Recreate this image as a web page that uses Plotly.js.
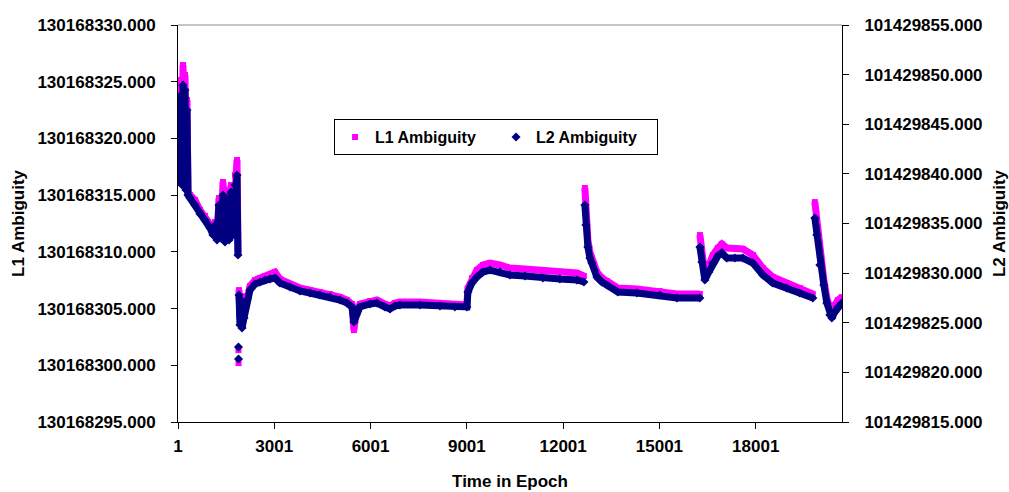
<!DOCTYPE html>
<html>
<head>
<meta charset="utf-8">
<script src="https://cdn.plot.ly/plotly-3.0.1.min.js"></script>
<style>
  html, body { margin: 0; padding: 0; background: #ffffff; }
  #chart { width: 1009px; height: 492px; }
</style>
</head>
<body>
<div id="chart"></div>
<script>
// Epoch numbers of the sampled solutions (null rows in the value arrays mark breaks)
const epochs = [
  1, 32, 48, 63, 94, 126, 157, 188, 219, 250, 281, 313, 375, 531, 686, 842, 998, 1091,
  1154, 1216, 1278, 1340, 1403, 1465, 1527, 1590, 1652, 1714, 1777, 1839, 1870,
  1878, 1885, 1886, 1887, 1889,
  1901, 1932, 1963, 1995, 2057, 2150, 2244, 2400, 2555, 2711, 2867, 3023, 3178, 3490,
  3801, 4113, 4424, 4736, 5047, 5265, 5421, 5483, 5546, 5670, 5982, 6200, 6449, 6605,
  6761, 6916, 7539, 8162, 8629, 9003, 9035, 9159, 9315, 9502, 9720, 10031, 10343, 10810,
  11371, 11900, 12430, 12648,
  12660,
  12679, 12710, 12772, 12835, 12897, 13053, 13209, 13364, 13707, 14299, 15015, 15545, 16261,
  16262,
  16263, 16324, 16417, 16542, 16667, 16822, 16947, 17103, 17353, 17600, 17912, 18224,
  18535, 18971, 19376, 19781,
  19800,
  19844, 19906, 20000, 20124, 20218, 20311, 20373, 20467, 20560, 20685
];

// L1 float ambiguity (cycles), left axis
const l1Ambiguity = [
  130168322.50, 130168316.51, 130168324.27, 130168317.39, 130168325.15, 130168316.07,
  130168326.47, 130168318.98, 130168325.59, 130168315.63, 130168323.39, 130168315.27,
  130168315.01, 130168314.57, 130168313.69, 130168313.16, 130168312.45, 130168311.75,
  130168312.63, 130168311.22, 130168314.74, 130168311.48, 130168316.16, 130168311.04,
  130168315.45, 130168311.31, 130168315.89, 130168311.92, 130168316.77, 130168318.10,
  130168309.98,
  null, 130168301.34, null, 130168300.19, null,
  130168306.63, 130168304.16, 130168306.10, 130168303.54, 130168304.52, 130168306.10,
  130168306.98, 130168307.51, 130168307.69, 130168307.87, 130168307.95, 130168308.22,
  130168307.60, 130168307.16, 130168306.81, 130168306.63, 130168306.46, 130168306.28,
  130168306.01, 130168305.75, 130168305.40, 130168303.10, 130168304.69, 130168305.40,
  130168305.66, 130168305.75, 130168305.40, 130168305.22, 130168305.48, 130168305.57,
  130168305.57, 130168305.48, 130168305.40, 130168305.31, 130168306.81, 130168307.69,
  130168308.40, 130168308.84, 130168309.01, 130168308.84, 130168308.57, 130168308.48,
  130168308.31, 130168308.22, 130168308.13, 130168307.87,
  null,
  130168315.63, 130168313.25, 130168311.04, 130168309.98, 130168309.45, 130168308.22,
  130168307.69, 130168307.42, 130168306.81, 130168306.72, 130168306.54, 130168306.28,
  130168306.28,
  null,
  130168311.48, 130168309.72, 130168307.95, 130168308.75, 130168309.72, 130168310.34,
  130168310.69, 130168310.34, 130168310.34, 130168310.25, 130168309.72, 130168308.57,
  130168307.78, 130168307.25, 130168306.81, 130168306.28,
  null,
  130168314.39, 130168312.63, 130168309.72, 130168307.51, 130168305.93, 130168304.87,
  130168304.52, 130168305.31, 130168305.75, 130168306.01
];

// L2 float ambiguity (cycles), right axis
const l2Ambiguity = [
  101429845.43, 101429839.38, 101429847.44, 101429840.39, 101429847.95, 101429838.88,
  101429848.95, 101429841.40, 101429848.45, 101429838.38, 101429846.44, 101429837.87,
  101429837.57, 101429836.86, 101429835.96, 101429835.35, 101429834.55, 101429833.84,
  101429834.85, 101429833.34, 101429836.86, 101429833.54, 101429837.87, 101429833.14,
  101429837.37, 101429833.34, 101429838.17, 101429833.84, 101429838.88, 101429839.89,
  101429831.83,
  null, 101429822.56, null, 101429821.35, null,
  101429827.80, 101429824.77, 101429827.29, 101429824.47, 101429825.48, 101429827.29,
  101429828.30, 101429828.90, 101429829.11, 101429829.31, 101429829.41, 101429829.51,
  101429829.00, 101429828.60, 101429828.20, 101429828.00, 101429827.80, 101429827.59,
  101429827.29, 101429826.99, 101429826.59, 101429825.08, 101429825.78, 101429826.59,
  101429826.89, 101429826.99, 101429826.59, 101429826.39, 101429826.69, 101429826.79,
  101429826.79, 101429826.69, 101429826.59, 101429826.59, 101429828.10, 101429829.00,
  101429829.61, 101429830.11, 101429830.31, 101429830.11, 101429829.81, 101429829.71,
  101429829.51, 101429829.41, 101429829.31, 101429829.11,
  null,
  101429836.86, 101429834.85, 101429832.63, 101429831.52, 101429831.02, 101429829.61,
  101429829.11, 101429828.80, 101429828.10, 101429828.00, 101429827.80, 101429827.49,
  101429827.49,
  null,
  101429832.63, 101429831.12, 101429829.31, 101429830.11, 101429831.02, 101429831.73,
  101429832.03, 101429831.52, 101429831.52, 101429831.52, 101429831.02, 101429829.81,
  101429829.00, 101429828.50, 101429828.00, 101429827.49,
  null,
  101429835.55, 101429833.84, 101429830.82, 101429828.80, 101429826.99, 101429825.78,
  101429825.48, 101429826.08, 101429826.59, 101429826.99
];

const epochTicks = [1, 3001, 6001, 9001, 12001, 15001, 18001];
const seriesNames = ['L1 Ambiguity', 'L2 Ambiguity'];

const PINK = '#ff00ff';
const NAVY = '#000080';
const FONT = 'Liberation Sans, Arial, sans-serif';
const textFont = { family: FONT, size: 17, weight: 'bold', color: '#000000' };
const legendFont = { family: FONT, size: 16, weight: 'bold', color: '#000000' };

const traces = [
  // L1: thick band plus square markers
  { x: epochs, y: l1Ambiguity, type: 'scatter', mode: 'lines', yaxis: 'y',
    line: { color: PINK, width: 7 }, connectgaps: false, showlegend: false, hoverinfo: 'skip' },
  { x: epochs, y: l1Ambiguity, type: 'scatter', mode: 'markers', yaxis: 'y', name: seriesNames[0],
    marker: { color: PINK, symbol: 'square', size: 6 } },
  // L2: thick band plus diamond markers
  { x: epochs, y: l2Ambiguity, type: 'scatter', mode: 'lines', yaxis: 'y2',
    line: { color: NAVY, width: 7 }, connectgaps: false, showlegend: false, hoverinfo: 'skip' },
  { x: epochs, y: l2Ambiguity, type: 'scatter', mode: 'markers', yaxis: 'y2', name: seriesNames[1],
    marker: { color: NAVY, symbol: 'diamond', size: 7 } }
];

const layout = {
  width: 1009,
  height: 492,
  margin: { l: 178, r: 167, t: 25, b: 70, pad: 0 },
  paper_bgcolor: '#ffffff',
  plot_bgcolor: '#ffffff',
  font: textFont,
  showlegend: true,
  xaxis: {
    range: [1, 20690],
    tickmode: 'array',
    tickvals: epochTicks,
    ticktext: epochTicks.map(String),
    ticks: 'outside', ticklen: 6, tickwidth: 1, tickcolor: '#000000',
    ticklabelstandoff: 3,
    showline: true, linecolor: '#000000', linewidth: 1,
    showgrid: false, zeroline: false,
    tickfont: textFont,
    title: { text: 'Time in Epoch', font: textFont, standoff: 19 }
  },
  yaxis: {
    range: [130168295, 130168330],
    tickmode: 'linear', tick0: 130168295, dtick: 5,
    tickformat: '.3f',
    ticks: 'outside', ticklen: 6, tickwidth: 1, tickcolor: '#000000',
    ticklabelstandoff: 12,
    showline: true, linecolor: '#000000', linewidth: 1,
    showgrid: false, zeroline: false,
    tickfont: textFont,
    title: { text: 'L1 Ambiguity', font: textFont, standoff: 8 }
  },
  yaxis2: {
    overlaying: 'y', side: 'right',
    range: [101429815, 101429855],
    tickmode: 'linear', tick0: 101429815, dtick: 5,
    tickformat: '.3f',
    ticks: 'outside', ticklen: 6, tickwidth: 1, tickcolor: '#000000',
    ticklabelstandoff: 12,
    showline: true, linecolor: '#000000', linewidth: 1,
    showgrid: false, zeroline: false,
    tickfont: textFont,
    title: { text: 'L2 Ambiguity', font: textFont, standoff: 16 }
  },
  legend: {
    orientation: 'h',
    x: 0.235, y: 0.763, xanchor: 'left', yanchor: 'top',
    bgcolor: '#ffffff', bordercolor: '#000000', borderwidth: 1,
    font: legendFont,
    entrywidth: 116,
    itemsizing: 'trace'
  },
  shapes: [
    { type: 'line', xref: 'paper', yref: 'paper', x0: 0, x1: 1, y0: 1, y1: 1,
      line: { color: '#8c8c8c', width: 1 } }
  ]
};

Plotly.newPlot('chart', traces, layout, { staticPlot: true, displayModeBar: false });
</script>
</body>
</html>
